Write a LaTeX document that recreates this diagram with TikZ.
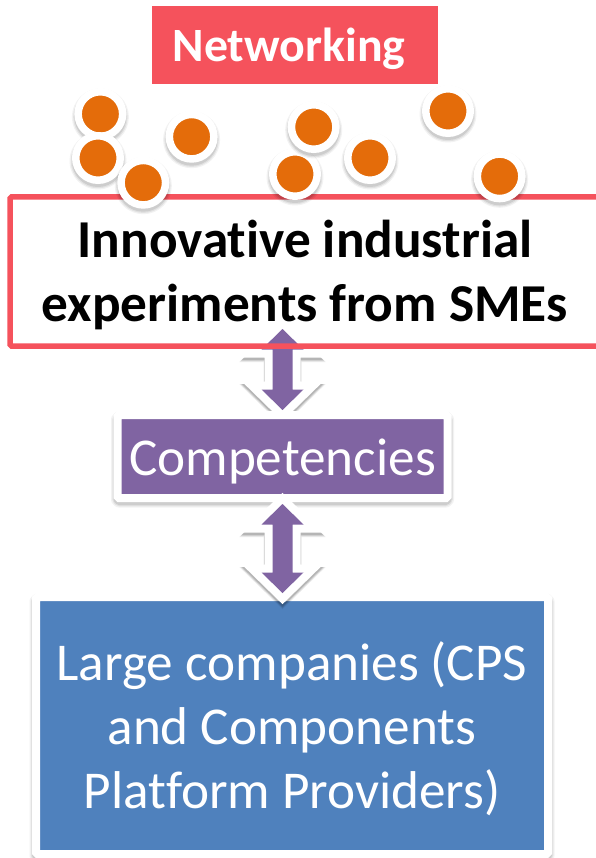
\documentclass[tikz,border=0pt]{standalone}
\usepackage{fontspec}
\setmainfont{Carlito}[Ligatures=NoCommon]
\usetikzlibrary{calc}
\definecolor{netred}{HTML}{F5525C}
\definecolor{dotorange}{HTML}{E46C0A}
\definecolor{compurple}{HTML}{8064A2}
\definecolor{largeblue}{HTML}{4F81BD}
\tikzset{
  softshadow/.style={
    preaction={draw=black,fill=black,opacity=.05,line join=round,line width=#1+5pt,transform canvas={yshift=-3pt}},
    preaction={draw=black,fill=black,opacity=.07,line join=round,line width=#1+2.5pt,transform canvas={yshift=-3pt}},
    preaction={draw=black,fill=black,opacity=.09,line join=round,line width=#1,transform canvas={yshift=-3pt}}
  },
  arrowshadow/.style={
    preaction={draw=black,fill=black,opacity=.08,miter limit=10,line width=18pt,transform canvas={yshift=-3.5pt}},
    preaction={draw=black,fill=black,opacity=.10,miter limit=10,line width=17pt,transform canvas={yshift=-3pt}},
    preaction={draw=black,fill=black,opacity=.14,miter limit=10,line width=16pt,transform canvas={yshift=-2.5pt}}
  },
  netbox/.style={fill=netred,text=white,font=\fontsize{47.8}{50}\selectfont\bfseries,minimum width=286pt,minimum height=78pt,inner sep=0pt},
  expbox/.style={draw=netred,line width=5.5pt,rounded corners=1.5pt,font=\fontsize{53.3}{64}\selectfont\bfseries,align=center,text=black,minimum width=590pt,minimum height=149pt,inner sep=0pt},
  compbox/.style={softshadow=8pt,draw=white,line width=8pt,rounded corners=1.5pt,fill=compurple,text=white,font=\fontsize{53.2}{60}\selectfont,minimum width=330pt,minimum height=83pt,inner sep=0pt},
  largebox/.style={softshadow=8pt,draw=white,line width=8pt,rounded corners=1.5pt,fill=largeblue,text=white,font=\fontsize{53.2}{64}\selectfont,align=center,minimum width=512pt,minimum height=257pt,inner sep=0pt},
  dotnode/.style={softshadow=7.5pt,circle,draw=white,line width=7.5pt,fill=dotorange,minimum size=44.5pt,inner sep=0pt},
  arrowshape/.style={arrowshadow,preaction={draw=white,line width=16pt,miter limit=10},line join=miter,miter limit=10,fill=compurple}
}
\newcommand{\dblarrow}[2]{%
  \path let \p1=(#1),\p2=(#2) in
    [arrowshape] (\x1,\y1) -- (\x1+21pt,\y1-20.5pt) -- (\x1+10pt,\y1-20.5pt)
    -- (\x1+10pt,\y2+20.5pt) -- (\x1+21pt,\y2+20.5pt) -- (\x2,\y2)
    -- (\x1-21pt,\y2+20.5pt) -- (\x1-10pt,\y2+20.5pt)
    -- (\x1-10pt,\y1-20.5pt) -- (\x1-21pt,\y1-20.5pt) -- cycle;}
\begin{document}
\begin{tikzpicture}[x=1pt,y=-1pt]
\useasboundingbox (0,0) rectangle (596,858);
\coordinate (a1top) at (282.5,329);
\coordinate (a1bot) at (282.5,410);
\coordinate (a2top) at (282.5,504);
\coordinate (a2bot) at (282.5,593);
\node[largebox] (large) at (292,725.5) {\rule{0pt}{46pt}Large companies (CPS\\and Components\\Platform Providers)};
\dblarrow{a1top}{a1bot}
\node[compbox] (comp) at (282.5,456.5) {\rule{0pt}{47pt}Competencies};
\dblarrow{a2top}{a2bot}
\node[netbox] (net) at (295,45) {\rule{0pt}{41pt}Networking\hspace{12pt}\null};
\node[expbox] (exp) at (305,271.5) {\rule{0pt}{45pt}Innovative industrial\\experiments from SMEs};
\node[dotnode] (d1) at (100.4,114) {};
\node[dotnode] (d2) at (98,158) {};
\node[dotnode] (d3) at (143.3,182.7) {};
\node[dotnode] (d4) at (191.6,136.7) {};
\node[dotnode] (d5) at (295,174) {};
\node[dotnode] (d6) at (313.7,127) {};
\node[dotnode] (d7) at (370,158) {};
\node[dotnode] (d8) at (448,111) {};
\node[dotnode] (d9) at (499.6,176.3) {};
\end{tikzpicture}
\end{document}
